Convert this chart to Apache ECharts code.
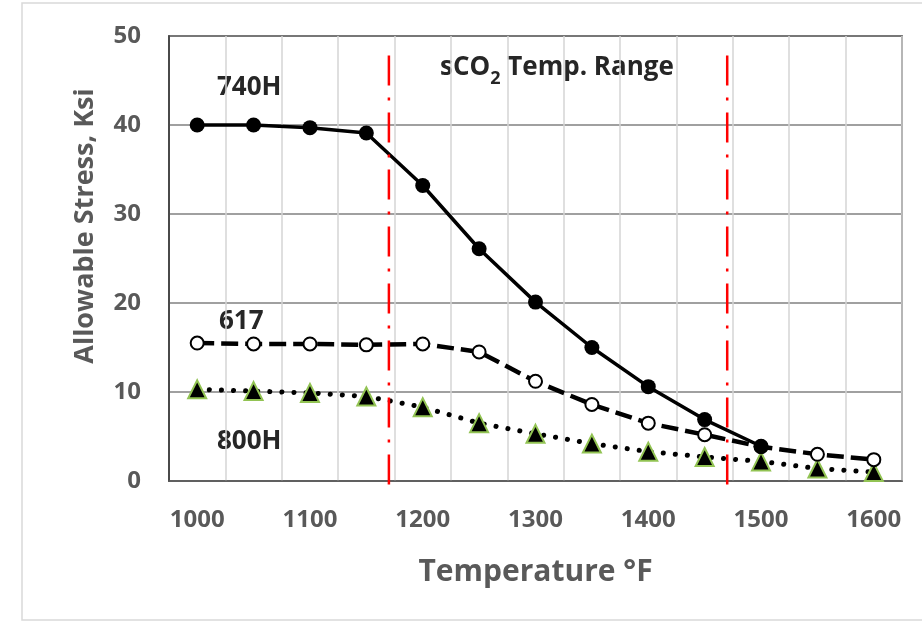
<!DOCTYPE html>
<html>
<head>
<meta charset="utf-8">
<script src="https://cdn.jsdelivr.net/npm/echarts@6/dist/echarts.min.js"></script>
<style>
  html, body { margin: 0; padding: 0; background: #fff; }
  #chart { width: 922px; height: 623px; }
</style>
</head>
<body>
<div id="chart"></div>
<script>
// temperatures, °F
const temps = ["1000", "1050", "1100", "1150", "1200", "1250", "1300",
  "1350", "1400", "1450", "1500", "1550", "1600"];
// allowable stress, ksi
const alloy740H = [40.0, 40.0, 39.7, 39.1, 33.2, 26.1, 20.1, 15.0, 10.6, 6.9, 3.9, null, null];
const alloy617 = [15.5, 15.4, 15.4, 15.3, 15.4, 14.5, 11.2, 8.6, 6.5, 5.2, 3.85, 3.0, 2.4];
const alloy800H = [10.3, 10.1, 9.9, 9.5, 8.3, 6.5, 5.3, 4.2, 3.3, 2.7, 2.2, 1.4, 1.0];
// sCO2 temperature range bounds, °F, and how far the markers run (ksi)
const rangeBounds = [1170, 1470];
const rangeSpan = [47.8, -1.5];
const yTicks = { min: 0, max: 50, step: 10 };

const font = '"Open Sans", sans-serif';
const grey = "#595959";
const ink = "#262626";

const chart = echarts.init(document.getElementById("chart"));

const rangeSeries = rangeBounds.map((t) => ({
  type: "line",
  xAxisIndex: 1,
  data: rangeSpan.map((v) => [t, v]),
  symbol: "none",
  clip: false,
  silent: true,
  z: 5,
  lineStyle: { color: "#ff0000", width: 2.5, type: [30, 12, 3, 12] },
}));

const seriesLabel = (text, x, y) => ({
  type: "text",
  x,
  y,
  style: { text, font: "bold 26px " + font, fill: ink, verticalAlign: "middle" },
});

chart.setOption({
  animation: false,
  graphic: [
    {
      type: "rect",
      shape: { x: 22, y: 3, width: 910, height: 617 },
      style: { fill: "none", stroke: "#d9d9d9", lineWidth: 1.5 },
      z: -10,
    },
    {
      type: "text",
      x: 85,
      y: 226,
      rotation: Math.PI / 2,
      style: {
        text: "Allowable Stress, Ksi",
        font: "bold 27px " + font,
        fill: grey,
        align: "center",
        verticalAlign: "middle",
      },
    },
    seriesLabel("740H", 217, 88),
    seriesLabel("617", 219, 322),
    seriesLabel("800H", 217, 442),
    {
      type: "text",
      x: 440,
      y: 52,
      style: {
        text: "{a|sCO}{s|2}{a| Temp. Range}",
        rich: {
          a: { font: "bold 26px " + font, fill: ink, verticalAlign: "bottom", height: 32 },
          s: { font: "bold 18px " + font, fill: ink, verticalAlign: "bottom", height: 24, padding: [0, 0, -7, 0] },
        },
      },
    },
  ],
  grid: {
    left: 169,
    right: 20,
    top: 36,
    bottom: 142,
    show: true,
    borderColor: ink,
    borderWidth: 1.5,
    containLabel: false,
  },
  xAxis: [
    {
      type: "category",
      data: temps,
      boundaryGap: true,
      name: "Temperature °F",
      nameLocation: "middle",
      nameGap: 76,
      nameTextStyle: { fontFamily: font, fontWeight: "bold", fontSize: 30, color: grey },
      axisLine: { lineStyle: { color: grey, width: 1.5 } },
      axisTick: { show: false },
      axisLabel: { interval: 1, margin: 27, fontFamily: font, fontWeight: "bold", fontSize: 24, color: grey },
      splitLine: { show: true, interval: 0, lineStyle: { color: "#d4d4d4", width: 1.5 } },
    },
    {
      type: "value",
      min: 975,
      max: 1625,
      show: false,
    },
  ],
  yAxis: {
    type: "value",
    min: yTicks.min,
    max: yTicks.max,
    interval: yTicks.step,
    axisLine: { show: true, lineStyle: { color: ink, width: 1.5 } },
    axisTick: { show: false },
    axisLabel: { margin: 28, fontFamily: font, fontWeight: "bold", fontSize: 24, color: grey },
    splitLine: { lineStyle: { color: "#808080", width: 1.5 } },
  },
  series: [
    {
      name: "800H",
      type: "line",
      data: alloy800H,
      symbol: "triangle",
      symbolSize: 18,
      z: 3,
      itemStyle: { color: "#000", borderColor: "#92c353", borderWidth: 2 },
      lineStyle: { color: "#000", width: 5, type: [0.1, 12], cap: "round" },
    },
    {
      name: "617",
      type: "line",
      data: alloy617,
      symbol: "circle",
      symbolSize: 13,
      z: 3,
      itemStyle: { color: "#fff", borderColor: "#000", borderWidth: 2 },
      lineStyle: { color: "#000", width: 4.5, type: [17, 7] },
    },
    {
      name: "740H",
      type: "line",
      data: alloy740H,
      symbol: "circle",
      symbolSize: 15,
      z: 4,
      itemStyle: { color: "#000" },
      lineStyle: { color: "#000", width: 3.5 },
    },
    ...rangeSeries,
  ],
});
</script>
</body>
</html>
